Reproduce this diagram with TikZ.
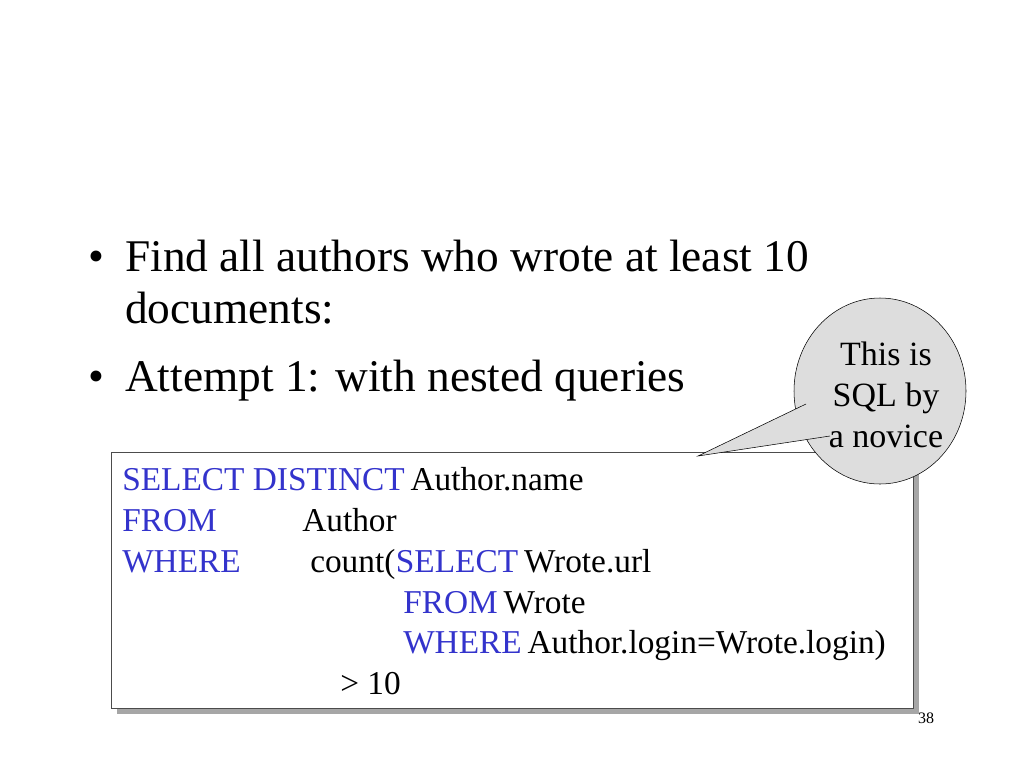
\documentclass[tikz,border=0pt]{standalone}
\usepackage{fontspec}
\setmainfont{Liberation Serif}
\usepackage{xcolor}
\usetikzlibrary{positioning,shapes}
\definecolor{kwblue}{RGB}{51,51,204}
\definecolor{bubblegray}{RGB}{221,221,221}
\begin{document}
\begin{tikzpicture}[
        x=0.75pt, y=-0.75pt,
        bullet/.style={anchor=base west, inner sep=0pt, font=\fontsize{34}{40}\selectfont},
        code/.style={anchor=base west, inner sep=0pt, font=\fontsize{25}{30}\selectfont},
        kw/.style={code, text=kwblue},
        bubble/.style={align=center, inner sep=0pt, font=\fontsize{25.5}{31}\selectfont}
    ]
        \useasboundingbox (0,0) rectangle (1024,768);
        % bullets
        \node[bullet] (b1) at (88,271) {\textbullet};
        \node[bullet] (t1) at (125,271) {Find all authors who wrote at least 10};
        \node[bullet] (t1b) at (125,323) {documents:};
        \node[bullet] (b2) at (88,391) {\textbullet};
        \node[bullet] (t2) at (125,391) {Attempt 1: with nested queries};
        % code box with shadow
        \fill[gray!70] (117,458) rectangle (919,714);
        \draw[fill=white, draw=gray!60!black] (111,452) rectangle (913,708);
        \node[kw] (k1) at (122,490) {SELECT DISTINCT};
        \node[code, right=4pt of k1.base east, anchor=base west] {Author.name};
        \node[kw] (k2) at (122,531) {FROM};
        \node[code] at (302,531) {Author};
        \node[kw] (k3) at (122,572) {WHERE};
        \node[code] (cnt) at (310,572) {count(};
        \node[kw, right=0pt of cnt.base east, anchor=base west] (k4) {SELECT};
        \node[code, right=4pt of k4.base east, anchor=base west] {Wrote.url};
        \node[kw] (k5) at (403,613) {FROM};
        \node[code, right=4pt of k5.base east, anchor=base west] {Wrote};
        \node[kw] (k6) at (403,653) {WHERE};
        \node[code, right=4pt of k6.base east, anchor=base west] {Author.login=Wrote.login)};
        \node[code] (gt) at (340,694) {> 10};
        % callout
        \coordinate (tip) at (698,456);
        \node[ellipse, draw, fill=bubblegray, minimum width=172pt*0.75, minimum height=186pt*0.75] (bub) at (880,391) {};
        \fill[bubblegray] (806,404) -- (tip) -- (830,436) -- (840,420) -- cycle;
        \draw (806,404) -- (tip) -- (830,436);
        \node[bubble] (btxt) at (886,395) {This is\\SQL by\\a novice};
        \node[anchor=base, inner sep=0pt, font=\fontsize{12}{14}\selectfont] (pg) at (926,723) {38};
    \end{tikzpicture}
\end{document}
